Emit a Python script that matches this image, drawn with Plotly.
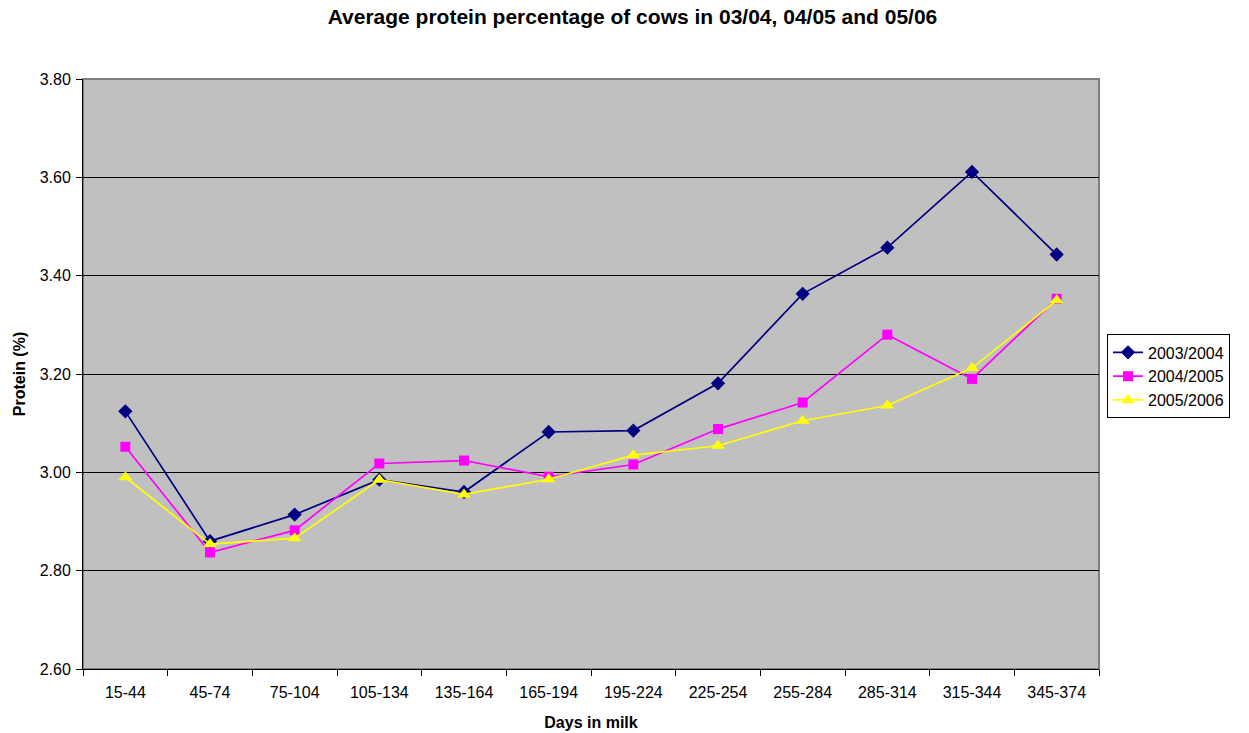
import plotly.graph_objects as go

categories = ["15-44", "45-74", "75-104", "105-134", "135-164", "165-194",
              "195-224", "225-254", "255-284", "285-314", "315-344", "345-374"]
s2003 = [3.124, 2.860, 2.914, 2.985, 2.960, 3.082, 3.085, 3.181, 3.363, 3.457, 3.611, 3.443]
s2004 = [3.052, 2.837, 2.882, 3.018, 3.024, 2.991, 3.016, 3.088, 3.142, 3.280, 3.190, 3.353]
s2005 = [2.990, 2.854, 2.866, 2.985, 2.955, 2.986, 3.035, 3.054, 3.105, 3.136, 3.212, 3.350]
names = ["2003/2004", "2004/2005", "2005/2006"]
y_ticks = [2.60, 2.80, 3.00, 3.20, 3.40, 3.60, 3.80]

FONT = "Liberation Sans, Arial, sans-serif"

fig = go.Figure()
styles = [("#000080", "diamond", 11), ("#FF00FF", "square", 10), ("#FFFF00", "triangle-up", 12)]
for name, vals, (col, sym, sz) in zip(names, [s2003, s2004, s2005], styles):
    fig.add_trace(go.Scatter(
        x=categories, y=vals, name=name, mode="lines+markers",
        line=dict(color=col, width=1.7),
        marker=dict(symbol=sym, size=sz, color=col, line=dict(width=0)),
    ))

# gray plot-area frame (top/right visible; left/bottom covered by black axis lines)
fig.add_shape(type="rect", xref="paper", yref="paper", x0=0, x1=1, y0=0, y1=1,
              line=dict(color="#808080", width=2), layer="below")

fig.update_layout(
    width=1249, height=733,
    margin=dict(l=83, r=150, t=79, b=64),
    paper_bgcolor="white",
    plot_bgcolor="#C0C0C0",
    font=dict(family=FONT, size=16, color="black"),
    title=dict(text="<b>Average protein percentage of cows in 03/04, 04/05 and 05/06</b>",
               x=0.5064, xref="container", xanchor="center",
               y=1 - 17 / 733, yref="container", yanchor="middle",
               font=dict(family=FONT, size=21, color="black")),
    legend=dict(x=1.0079, xanchor="left", y=0.567, yanchor="top",
                bordercolor="black", borderwidth=1, bgcolor="white",
                font=dict(family=FONT, size=16), tracegroupgap=0,
                itemwidth=30),
    showlegend=True,
)
fig.update_xaxes(
    type="category", categoryorder="array", categoryarray=categories,
    range=[-0.5, len(categories) - 0.5],
    automargin=False,
    showgrid=False, zeroline=False,
    showline=True, linecolor="black", linewidth=1, mirror=False,
    ticks="outside", tickson="boundaries", ticklen=6, tickcolor="black",
    ticklabelstandoff=9,
    title=dict(text="<b>Days in milk</b>", font=dict(family=FONT, size=16), standoff=16),
    tickfont=dict(family=FONT, size=16),
)
fig.update_yaxes(
    range=[2.60, 3.80], tickvals=y_ticks, ticktext=[f"{v:.2f}" for v in y_ticks],
    automargin=False,
    showgrid=True, gridcolor="black", gridwidth=1, zeroline=False,
    showline=True, linecolor="black", linewidth=1, mirror=False,
    ticks="outside", ticklen=6, tickcolor="black",
    ticklabelstandoff=2,
    title=dict(text="<b>Protein (%)</b>", font=dict(family=FONT, size=16), standoff=10),
    tickfont=dict(family=FONT, size=16),
)

fig.write_html("out.html")
